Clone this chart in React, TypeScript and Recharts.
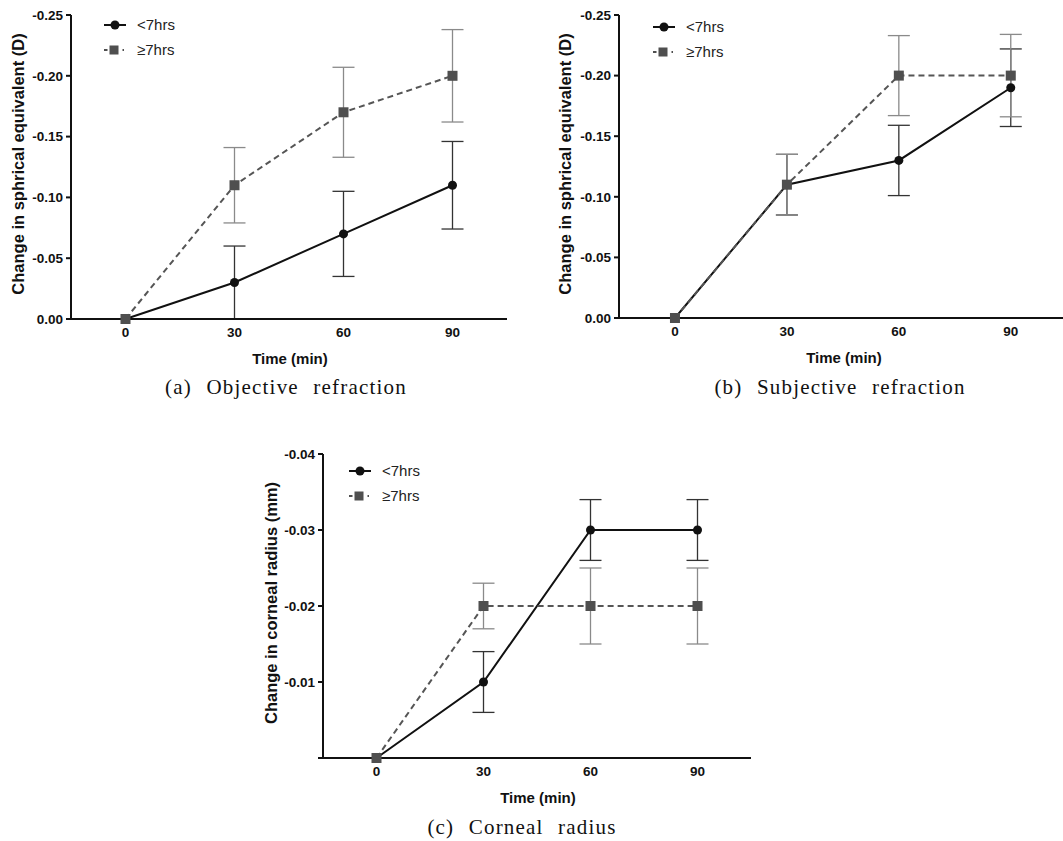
import { LineChart, Line, XAxis, YAxis, ErrorBar, Legend, Label } from 'recharts';

const times = [0, 30, 60, 90];
const timeTicks = [0, 30, 60, 90];
const seriesNames = ['<7hrs', '≥7hrs'];

// (a) objective refraction, change in spherical equivalent (D)
const objUnder7 = [0, -0.03, -0.07, -0.11];
const objUnder7Err = [null, 0.03, 0.035, 0.036];
const objOver7 = [0, -0.11, -0.17, -0.2];
const objOver7Err = [null, 0.031, 0.037, 0.038];

// (b) subjective refraction
const subjUnder7 = [0, -0.11, -0.13, -0.19];
const subjUnder7Err = [null, 0.025, 0.029, 0.032];
const subjOver7 = [0, -0.11, -0.2, -0.2];
const subjOver7Err = [null, 0.025, 0.033, 0.034];

// (c) corneal radius (mm)
const corUnder7 = [0, -0.01, -0.03, -0.03];
const corUnder7Err = [null, 0.004, 0.004, 0.004];
const corOver7 = [0, -0.02, -0.02, -0.02];
const corOver7Err = [null, 0.003, 0.005, 0.005];

const seTicks = [-0.25, -0.2, -0.15, -0.1, -0.05, 0];
const crTicks = [-0.04, -0.03, -0.02, -0.01, 0];

const SANS = '"Liberation Sans", Arial, sans-serif';
const INK = '#111';
const GREY = '#4f4f4f';

function buildRows(under: (number | null)[], underErr: (number | null)[], over: (number | null)[], overErr: (number | null)[]) {
  return times.map((t, i) => ({
    time: t,
    under: under[i],
    underErr: underErr[i],
    over: over[i],
    overErr: overErr[i],
  }));
}

const SquareDot = (props: any) => {
  const { cx, cy, index } = props;
  if (cx == null || cy == null) return null;
  return <rect key={`sq-${index}`} x={cx - 5} y={cy - 5} width={10} height={10} fill={GREY} />;
};

function LegendBox() {
  return (
    <div style={{ fontFamily: SANS, fontSize: 15, color: '#222', lineHeight: '25px' }}>
      <div style={{ display: 'flex', alignItems: 'center' }}>
        <svg width={22} height={12}>
          <line x1={0} x2={22} y1={6} y2={6} stroke={INK} strokeWidth={2} />
          <circle cx={11} cy={6} r={4.5} fill={INK} />
        </svg>
        <span style={{ marginLeft: 11 }}>{seriesNames[0]}</span>
      </div>
      <div style={{ display: 'flex', alignItems: 'center' }}>
        <svg width={22} height={12}>
          <rect x={0} y={5} width={3.5} height={2} fill={GREY} />
          <rect x={5.5} y={1.5} width={9} height={9} fill={GREY} />
          <rect x={18.5} y={5} width={1.5} height={2} fill={GREY} />
        </svg>
        <span style={{ marginLeft: 11 }}>{seriesNames[1]}</span>
      </div>
    </div>
  );
}

interface PanelProps {
  rows: any[];
  left: number;
  top: number;
  width: number;
  height: number;
  margin: { top: number; right: number; bottom: number; left: number };
  yWidth: number;
  xDomain: [number, number];
  yDomain: [number, number];
  yTicks: number[];
  hideZero?: boolean;
  yTitle: string;
  yTitleAt: { x: number; y: number };
  xTitleAt: { x: number; y: number };
  legendAt: { x: number; y: number };
}

function Panel(p: PanelProps) {
  const tickStyle = { fontSize: 13.5, fontWeight: 700, fill: INK, fontFamily: SANS };
  return (
    <div style={{ position: 'absolute', left: p.left, top: p.top }}>
      <LineChart width={p.width} height={p.height} data={p.rows} margin={p.margin}>
        <XAxis
          dataKey="time"
          type="number"
          domain={p.xDomain}
          ticks={timeTicks}
          interval={0}
          tickLine={false}
          axisLine={{ stroke: INK, strokeWidth: 2 }}
          tick={tickStyle}
          height={30}
        >
          <Label
            content={() => (
              <text
                x={p.xTitleAt.x}
                y={p.xTitleAt.y}
                textAnchor="middle"
                dominantBaseline="central"
                style={{ fontFamily: SANS, fontSize: 15, fontWeight: 700, fill: INK }}
              >
                Time (min)
              </text>
            )}
          />
        </XAxis>
        <YAxis
          type="number"
          domain={p.yDomain}
          reversed
          ticks={p.yTicks}
          interval={0}
          width={p.yWidth}
          tickSize={5}
          tickMargin={3}
          tickLine={{ stroke: INK, strokeWidth: 2 }}
          axisLine={{ stroke: INK, strokeWidth: 2 }}
          tick={tickStyle}
          tickFormatter={(v: number) => (p.hideZero && v === 0 ? '' : v.toFixed(2))}
        >
          <Label
            content={() => (
              <text
                x={p.yTitleAt.x}
                y={p.yTitleAt.y}
                transform={`rotate(-90 ${p.yTitleAt.x} ${p.yTitleAt.y})`}
                textAnchor="middle"
                dominantBaseline="central"
                style={{ fontFamily: SANS, fontSize: 16.5, fontWeight: 700, fill: INK }}
              >
                {p.yTitle}
              </text>
            )}
          />
        </YAxis>
        <Legend
          layout="vertical"
          align="center"
          verticalAlign="middle"
          content={() => <LegendBox />}
          wrapperStyle={{ left: p.legendAt.x, top: p.legendAt.y, width: 'auto', height: 'auto' }}
        />
        <Line
          dataKey="under"
          name={seriesNames[0]}
          type="linear"
          stroke={INK}
          strokeWidth={2}
          dot={{ r: 4.5, fill: INK, stroke: INK, strokeWidth: 0 }}
          activeDot={false}
          isAnimationActive={false}
        >
          <ErrorBar dataKey="underErr" direction="y" width={11} stroke="#333" strokeWidth={1.3} />
        </Line>
        <Line
          dataKey="over"
          name={seriesNames[1]}
          type="linear"
          stroke="#555"
          strokeWidth={2}
          strokeDasharray="6 4"
          dot={SquareDot}
          activeDot={false}
          isAnimationActive={false}
        >
          <ErrorBar dataKey="overErr" direction="y" width={11} stroke="#8a8a8a" strokeWidth={1.3} />
        </Line>
      </LineChart>
    </div>
  );
}

const captionStyle = {
  position: 'absolute' as const,
  fontFamily: '"Liberation Serif", "DejaVu Serif", serif',
  fontSize: 21,
  lineHeight: '22px',
  letterSpacing: '1.2px',
  wordSpacing: '8px',
  color: '#111',
  whiteSpace: 'nowrap' as const,
  transform: 'translateX(-50%)',
};

export default function App() {
  return (
    <div style={{ position: 'absolute', left: 0, top: 0, width: 1063, height: 841, background: '#fff', overflow: 'hidden' }}>
      <Panel
        rows={buildRows(objUnder7, objUnder7Err, objOver7, objOver7Err)}
        left={0}
        top={0}
        width={540}
        height={400}
        margin={{ top: 15, right: 33, bottom: 51, left: 0 }}
        yWidth={71}
        xDomain={[-15, 105]}
        yDomain={[-0.25, 0]}
        yTicks={seTicks}
        yTitle="Change in sphrical equivalent (D)"
        yTitleAt={{ x: 18, y: 164 }}
        xTitleAt={{ x: 290, y: 358 }}
        legendAt={{ x: 104, y: 12 }}
      />
      <Panel
        rows={buildRows(subjUnder7, subjUnder7Err, subjOver7, subjOver7Err)}
        left={540}
        top={0}
        width={523}
        height={400}
        margin={{ top: 15, right: 0, bottom: 52, left: 0 }}
        yWidth={79}
        xDomain={[-15, 104]}
        yDomain={[-0.25, 0]}
        yTicks={seTicks}
        yTitle="Change in sphrical equivalent (D)"
        yTitleAt={{ x: 25, y: 164 }}
        xTitleAt={{ x: 304, y: 357 }}
        legendAt={{ x: 113, y: 14 }}
      />
      <Panel
        rows={buildRows(corUnder7, corUnder7Err, corOver7, corOver7Err)}
        left={250}
        top={410}
        width={550}
        height={431}
        margin={{ top: 44, right: 49, bottom: 53, left: 0 }}
        yWidth={73}
        xDomain={[-15, 105]}
        yDomain={[-0.04, 0]}
        yTicks={crTicks}
        hideZero
        yTitle="Change in corneal radius (mm)"
        yTitleAt={{ x: 21, y: 193 }}
        xTitleAt={{ x: 288, y: 387 }}
        legendAt={{ x: 99, y: 48 }}
      />
      <div style={{ ...captionStyle, left: 286, top: 376 }}>(a) Objective refraction</div>
      <div style={{ ...captionStyle, left: 840, top: 376 }}>(b) Subjective refraction</div>
      <div style={{ ...captionStyle, left: 522, top: 816 }}>(c) Corneal radius</div>
    </div>
  );
}
